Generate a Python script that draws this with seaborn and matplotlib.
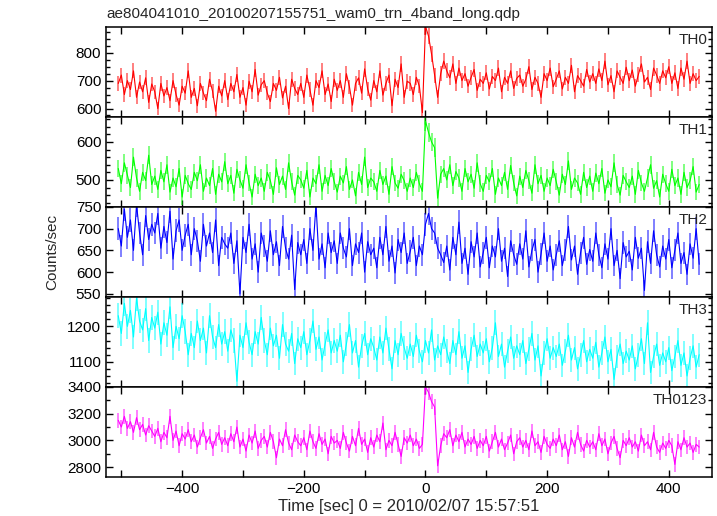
import numpy as np
import pandas as pd
import seaborn as sns
import matplotlib.pyplot as plt
from matplotlib.ticker import MultipleLocator

# light curve bins (sec from trigger), 5 s grid
t_start = -505
t_step = 5

th0 = [690, 720, 650, 700, 668, 735, 640, 695, 660, 710, 622, 688,
       660, 600, 690, 645, 675, 628, 700, 650, 612, 680, 655, 735,
       640, 672, 610, 690, 655, 628, 705, 662, 590, 680, 645, 700,
       632, 690, 660, 722, 640, 675, 612, 698, 660, 740, 648, 685,
       700, 655, 625, 690, 665, 712, 638, 680, 600, 705, 672, 650,
       690, 640, 720, 668, 612, 700, 675, 735, 650, 688, 625, 705,
       665, 700, 640, 725, 678, 612, 690, 710, 655, 742, 670, 630,
       700, 660, 735, 648, 690, 720, 610, 705, 675, 760, 640, 698,
       690, 650, 712, 680, 585, 895, 860, 795, 720, 640, 725, 770,
       735, 710, 760, 690, 745, 700, 725, 680, 712, 740, 665, 705,
       690, 728, 670, 715, 700, 745, 660, 712, 690, 735, 672, 708,
       720, 680, 705, 750, 668, 712, 690, 640, 725, 700, 745, 678,
       705, 735, 670, 712, 690, 755, 660, 718, 700, 680, 740, 695,
       725, 690, 742, 700, 770, 685, 718, 660, 735, 712, 690, 748,
       700, 738, 680, 722, 760, 695, 712, 668, 745, 720, 690, 735,
       710, 750, 690, 728, 672, 745, 705, 770, 690, 725, 700, 715]

th1 = [530, 490, 545, 512, 480, 560, 505, 470, 520, 498, 565, 488,
       510, 475, 525, 495, 540, 468, 505, 482, 530, 455, 512, 490,
       475, 520, 498, 540, 470, 505, 485, 530, 462, 515, 495, 548,
       490, 512, 465, 528, 500, 478, 540, 492, 455, 515, 485, 505,
       470, 520, 498, 462, 532, 488, 510, 475, 545, 495, 460, 512,
       500, 478, 525, 455, 505, 490, 540, 470, 512, 485, 530, 495,
       468, 510, 492, 535, 475, 500, 458, 520, 488, 560, 480, 505,
       495, 470, 525, 488, 510, 462, 535, 492, 478, 515, 498, 470,
       505, 480, 520, 490, 470, 655, 625, 600, 585, 452, 515, 530,
       500, 540, 485, 522, 505, 470, 530, 495, 515, 478, 545, 490,
       470, 512, 495, 530, 462, 505, 485, 520, 475, 538, 492, 458,
       510, 480, 525, 498, 465, 540, 490, 512, 470, 505, 485, 528,
       495, 460, 515, 488, 550, 475, 505, 492, 462, 520, 480, 510,
       470, 518, 490, 530, 465, 500, 482, 545, 488, 460, 512, 495,
       480, 510, 462, 525, 492, 470, 505, 540, 478, 498, 455, 515,
       490, 470, 528, 485, 505, 462, 520, 480, 498, 535, 468, 488]

th2 = [700, 660, 745, 680, 720, 650, 755, 690, 640, 730, 675, 710,
       690, 735, 655, 705, 668, 740, 630, 695, 720, 650, 685, 710,
       640, 700, 672, 625, 710, 660, 690, 645, 720, 615, 680, 665,
       655, 690, 620, 672, 550, 680, 645, 710, 630, 665, 600, 690,
       660, 625, 695, 640, 670, 615, 705, 655, 630, 685, 560, 668,
       640, 675, 620, 700, 650, 755, 630, 665, 610, 690, 645, 672,
       620, 690, 655, 635, 700, 615, 665, 645, 690, 600, 670, 640,
       655, 610, 680, 640, 705, 625, 660, 598, 675, 645, 690, 620,
       648, 680, 615, 660, 640, 710, 735, 700, 690, 655, 640, 622,
       660, 605, 680, 640, 715, 620, 655, 595, 670, 635, 690, 612,
       645, 680, 610, 660, 635, 700, 625, 655, 590, 672, 640, 618,
       665, 630, 695, 612, 650, 675, 600, 642, 690, 625, 660, 605,
       640, 672, 615, 650, 705, 628, 660, 595, 645, 680, 618, 652,
       625, 690, 640, 610, 665, 630, 700, 615, 650, 585, 668, 635,
       648, 605, 680, 632, 655, 558, 670, 620, 695, 640, 612, 660,
       630, 675, 610, 650, 690, 620, 645, 595, 665, 632, 700, 618]

th3 = [1230, 1180, 1265, 1200, 1245, 1170, 1280, 1215, 1190, 1250, 1160, 1225,
       1195, 1240, 1150, 1210, 1175, 1255, 1140, 1200, 1165, 1230, 1185, 1120,
       1180, 1140, 1215, 1160, 1195, 1125, 1230, 1170, 1140, 1205, 1150, 1185,
       1130, 1190, 1160, 1045, 1175, 1140, 1210, 1155, 1120, 1185, 1150, 1225,
       1160, 1120, 1195, 1145, 1175, 1110, 1205, 1150, 1130, 1180, 1095, 1165,
       1140, 1185, 1120, 1160, 1215, 1135, 1170, 1105, 1150, 1190, 1125, 1160,
       1130, 1175, 1100, 1150, 1205, 1125, 1160, 1085, 1145, 1180, 1120, 1165,
       1140, 1105, 1170, 1125, 1195, 1135, 1080, 1160, 1120, 1180, 1140, 1110,
       1150, 1115, 1175, 1130, 1100, 1160, 1125, 1190, 1105, 1145, 1120, 1170,
       1130, 1095, 1160, 1120, 1185, 1110, 1145, 1070, 1135, 1175, 1115, 1150,
       1125, 1165, 1100, 1140, 1210, 1115, 1150, 1085, 1130, 1170, 1110, 1145,
       1120, 1160, 1095, 1135, 1180, 1105, 1145, 1060, 1125, 1165, 1110, 1140,
       1115, 1150, 1090, 1130, 1175, 1105, 1140, 1080, 1120, 1160, 1100, 1135,
       1110, 1155, 1085, 1125, 1170, 1100, 1135, 1050, 1115, 1150, 1095, 1130,
       1105, 1145, 1080, 1120, 1165, 1095, 1210, 1070, 1115, 1150, 1090, 1125,
       1100, 1140, 1075, 1115, 1160, 1090, 1125, 1060, 1110, 1145, 1085, 1120]

th0123 = [3150, 3100, 3180, 3090, 3140, 3060, 3170, 3080, 3120, 3040, 3110, 3070,
          3030, 3090, 2990, 3060, 3020, 3180, 3000, 3070, 2960, 3050, 3010, 3080,
          2990, 3040, 2950, 3020, 3080, 2980, 3030, 2940, 3010, 3060, 2970, 3020,
          2960, 3050, 2990, 3100, 2950, 3010, 2920, 3040, 2980, 3070, 2940, 3000,
          3030, 2950, 3060, 2990, 2870, 3010, 2960, 3080, 2980, 2930, 3040, 2990,
          2960, 3020, 2930, 3070, 2990, 2940, 3050, 2970, 3010, 2900, 3030, 2980,
          3000, 2940, 3060, 2980, 2920, 3030, 2960, 3090, 2970, 3010, 2910, 3020,
          2950, 3040, 2990, 3130, 2930, 3000, 2960, 3060, 2970, 2880, 3020, 2980,
          3040, 2960, 3010, 2940, 2970, 3400, 3360, 3290, 3250, 2810, 2960, 3050,
          3020, 3080, 2960, 3040, 2990, 3060, 2950, 3010, 2970, 3030, 2940, 3000,
          2960, 3030, 2920, 2990, 3060, 2950, 3010, 2930, 2980, 3040, 2900, 2990,
          3020, 2950, 3000, 2930, 3070, 2960, 2990, 2910, 3030, 2970, 2940, 3010,
          2960, 3040, 2930, 2990, 2880, 3020, 2950, 3060, 2970, 2920, 3000, 2950,
          2990, 2930, 3050, 2960, 3010, 2900, 2980, 3030, 2940, 2870, 3000, 2960,
          3020, 2950, 2990, 2920, 3040, 2960, 2990, 2930, 3060, 2950, 2910, 2980,
          2940, 3000, 2960, 2820, 2990, 2930, 3020, 2950, 2980, 2910, 2970, 2950]

bands = ["TH0", "TH1", "TH2", "TH3", "TH0123"]
rates = [th0, th1, th2, th3, th0123]
colors = ["#ff0000", "#00ff00", "#0000ff", "#00ffff", "#ff00ff"]
ylims = [(570, 893), (429, 666), (543, 750), (1029, 1283), (2726, 3400)]
ymajor = [100, 100, 50, 100, 200]
yminor = [25, 20, 50, 20, 100]

title = "ae804041010_20100207155751_wam0_trn_4band_long.qdp"

times = t_start + t_step * np.arange(len(th0))
df = pd.concat([pd.DataFrame({"time": times, "rate": r, "band": b})
                for b, r in zip(bands, rates)], ignore_index=True)
# poisson error of a 1 s bin
df["err"] = np.sqrt(df["rate"])

sns.set_theme(style="ticks")
plt.rcParams["font.family"] = ["Liberation Sans", "DejaVu Sans"]

fig, axes = plt.subplots(5, 1, sharex=True, figsize=(7.17, 5.16), dpi=100,
                         gridspec_kw=dict(hspace=0))
fig.subplots_adjust(left=0.148, right=0.993, top=0.948, bottom=0.0756)

for ax, b, c, yl, ma, mi in zip(axes, bands, colors, ylims, ymajor, yminor):
    sub = df[df["band"] == b]
    ax.errorbar(sub["time"], sub["rate"], yerr=sub["err"], fmt="none",
                ecolor=c, elinewidth=1.4, alpha=0.5)
    sns.lineplot(data=sub, x="time", y="rate", color=c,
                 linewidth=0.8, estimator=None, ax=ax)
    ax.set_ylim(*yl)
    ax.set_xlim(-525, 471)
    ax.yaxis.set_major_locator(MultipleLocator(ma))
    ax.yaxis.set_minor_locator(MultipleLocator(mi))
    ax.xaxis.set_major_locator(MultipleLocator(200))
    ax.xaxis.set_minor_locator(MultipleLocator(100))
    ax.tick_params(which="both", direction="in", top=True, right=True,
                   labelsize=11, width=1, colors="black")
    ax.tick_params(which="major", length=5)
    ax.tick_params(which="minor", length=3)
    ax.tick_params(axis="x", which="minor", length=5)
    ax.set_xlabel("")
    ax.set_ylabel("")
    for s in ax.spines.values():
        s.set_linewidth(1.1)
        s.set_color("black")
    ax.text(0.992, 0.93, b, transform=ax.transAxes, ha="right", va="top",
            fontsize=11)

axes[-1].set_xticklabels([f"{int(v)}".replace("-", "\u2212")
                          for v in axes[-1].get_xticks()])

fig.text(106 / 717, 1 - 14 / 516, title, ha="left", va="center", fontsize=11)
fig.text(52 / 717, 1 - 252 / 516, "Counts/sec", rotation=90,
         ha="center", va="center", fontsize=11)
fig.text(409 / 717, 1 - 507 / 516, "Time [sec] 0 = 2010/02/07 15:57:51",
         ha="center", va="center", fontsize=12)

fig.savefig("out.png", dpi=100)
plt.close(fig)
